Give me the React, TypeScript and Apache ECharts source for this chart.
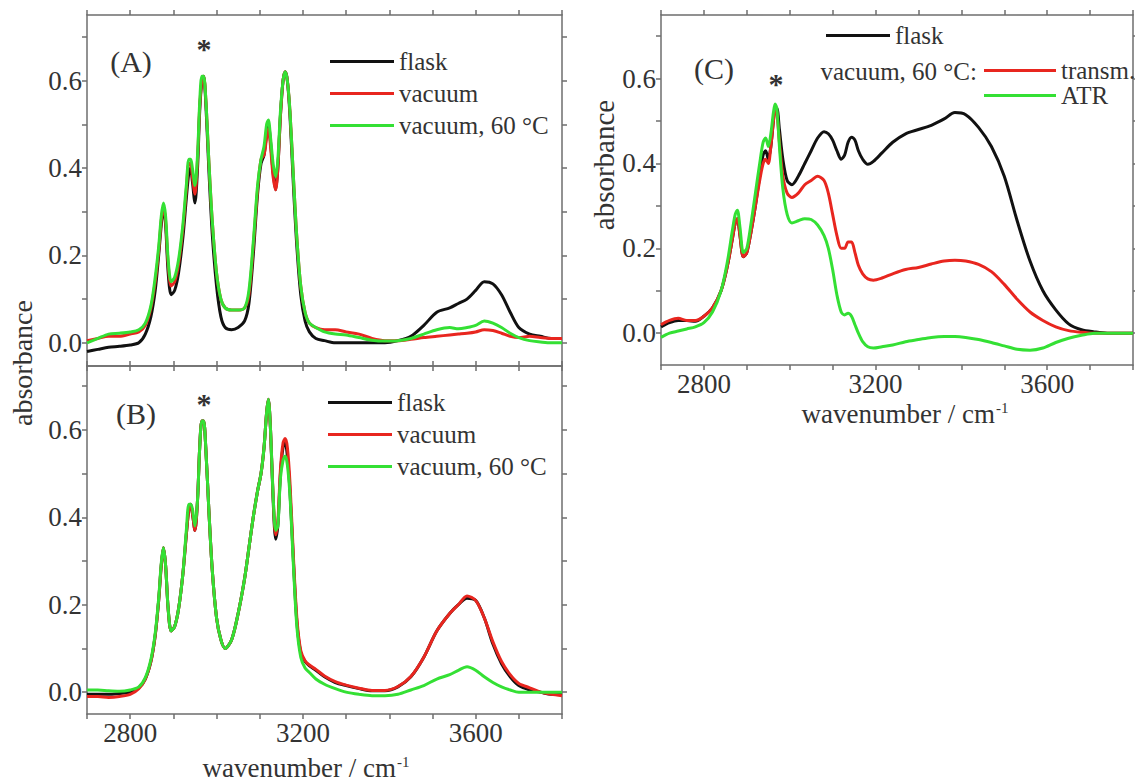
import React, { useEffect, useRef } from "react";
import * as echarts from "echarts";

// ---------- data ----------
const xAB = [
  2700, 2725, 2750, 2775, 2800, 2820, 2835, 2848, 2858, 2866,
  2872, 2877, 2882, 2888, 2895, 2903, 2912, 2922, 2930, 2936,
  2940, 2944, 2950, 2956, 2961, 2966, 2970, 2975, 2982, 2990,
  3000, 3010, 3020, 3035, 3050, 3065, 3075, 3085, 3095, 3103,
  3110, 3116, 3120, 3125, 3131, 3137, 3142, 3148, 3154, 3159,
  3164, 3170, 3178, 3186, 3195, 3205, 3215, 3230, 3250, 3275,
  3300, 3330, 3360, 3390, 3420, 3450, 3480, 3510, 3540, 3560,
  3580, 3600, 3620, 3640, 3660, 3680, 3700, 3725, 3750, 3775,
  3800,
];

const aFlask = [
  -0.02, -0.015, -0.01, -0.008, -0.005, 0.0, 0.02, 0.06, 0.12, 0.2,
  0.27, 0.31, 0.27, 0.16, 0.11, 0.12, 0.16, 0.24, 0.33, 0.39,
  0.4, 0.37, 0.32, 0.4, 0.53, 0.6, 0.61, 0.55, 0.4, 0.25,
  0.13, 0.06, 0.035, 0.03, 0.035, 0.05, 0.09, 0.2, 0.34, 0.41,
  0.43, 0.48, 0.5, 0.46, 0.39, 0.35, 0.4, 0.52, 0.6, 0.62,
  0.6, 0.52, 0.36, 0.22, 0.11, 0.05, 0.025, 0.01, 0.005, 0.0,
  0.0, 0.0, 0.0, 0.0, 0.005, 0.015, 0.04, 0.07, 0.08, 0.09,
  0.1, 0.12, 0.14, 0.135, 0.11, 0.07, 0.035, 0.02, 0.015, 0.01,
  0.01,
];
const aVacuum = [
  0.005, 0.01, 0.015, 0.015, 0.02, 0.025, 0.04, 0.08, 0.14, 0.21,
  0.28, 0.31, 0.28, 0.18, 0.13, 0.14, 0.18, 0.26, 0.35, 0.41,
  0.41, 0.38, 0.34, 0.42, 0.54, 0.6, 0.61, 0.56, 0.42, 0.28,
  0.16, 0.1, 0.08, 0.075, 0.075, 0.08, 0.11, 0.22, 0.35, 0.42,
  0.43, 0.47, 0.49, 0.45, 0.38, 0.35, 0.4, 0.52, 0.6, 0.62,
  0.6, 0.53, 0.38, 0.24, 0.13, 0.07, 0.045, 0.035, 0.03, 0.03,
  0.025, 0.02, 0.01, 0.005, 0.005, 0.008, 0.012, 0.015, 0.018, 0.02,
  0.022, 0.025, 0.03, 0.028, 0.022, 0.015, 0.012, 0.015, 0.012, 0.01,
  0.01,
];
const aVacuum60 = [
  0.0, 0.01, 0.02, 0.022, 0.025, 0.03, 0.045, 0.085, 0.15, 0.22,
  0.29, 0.32, 0.29, 0.19, 0.14, 0.15, 0.19, 0.27, 0.36, 0.42,
  0.42, 0.4, 0.36, 0.43, 0.55, 0.61, 0.61, 0.56, 0.42, 0.28,
  0.16, 0.1, 0.08, 0.075, 0.075, 0.08, 0.12, 0.23, 0.36, 0.42,
  0.45, 0.5, 0.51, 0.47, 0.41, 0.38, 0.42, 0.53, 0.6, 0.62,
  0.6, 0.53, 0.38, 0.24, 0.13, 0.07, 0.045, 0.035, 0.025, 0.02,
  0.018, 0.012, 0.006, 0.004, 0.005, 0.01, 0.02, 0.03, 0.035, 0.032,
  0.035, 0.04, 0.05, 0.045, 0.035, 0.022, 0.012, 0.005, 0.002, 0.0,
  0.0,
];

const bFlask = [
  -0.005, -0.005, -0.005, -0.003, 0.0, 0.01, 0.03, 0.07, 0.13, 0.21,
  0.29, 0.33, 0.29, 0.19, 0.14, 0.15, 0.19, 0.27, 0.36, 0.42,
  0.43, 0.41, 0.37, 0.44, 0.56, 0.62, 0.62, 0.56, 0.42, 0.28,
  0.17, 0.12, 0.1, 0.12, 0.18, 0.26, 0.33, 0.4, 0.46, 0.5,
  0.56, 0.64, 0.67, 0.6, 0.44, 0.35, 0.38, 0.5, 0.56, 0.57,
  0.54, 0.46, 0.3, 0.16, 0.09, 0.07, 0.06, 0.05, 0.035, 0.022,
  0.015, 0.008, 0.003, 0.003, 0.012, 0.035, 0.08, 0.14, 0.18, 0.2,
  0.215, 0.21, 0.17, 0.11, 0.065, 0.035, 0.015, 0.005, 0.0, -0.005,
  -0.005,
];
const bVacuum = [
  -0.01, -0.01, -0.012, -0.01, -0.005, 0.008, 0.03, 0.07, 0.13, 0.21,
  0.29, 0.33, 0.29, 0.19, 0.14, 0.15, 0.19, 0.27, 0.36, 0.42,
  0.43, 0.41, 0.37, 0.44, 0.56, 0.62, 0.62, 0.56, 0.42, 0.28,
  0.17, 0.12, 0.1, 0.12, 0.18, 0.26, 0.33, 0.4, 0.46, 0.5,
  0.56, 0.64, 0.67, 0.6, 0.45, 0.36, 0.39, 0.51, 0.57, 0.58,
  0.56, 0.48, 0.31, 0.17, 0.095, 0.072, 0.062, 0.052, 0.037, 0.024,
  0.016, 0.009, 0.004, 0.004, 0.013, 0.036, 0.08, 0.14, 0.18, 0.2,
  0.22, 0.21, 0.17, 0.115, 0.07, 0.04, 0.02, 0.01, 0.0, -0.005,
  -0.008,
];
const bVacuum60 = [
  0.005, 0.005, 0.003, 0.002, 0.005, 0.012, 0.033, 0.075, 0.135, 0.215,
  0.295, 0.33, 0.29, 0.19, 0.14, 0.15, 0.19, 0.27, 0.37, 0.43,
  0.43, 0.42, 0.38, 0.44, 0.56, 0.62, 0.62, 0.56, 0.42, 0.28,
  0.17, 0.12, 0.1, 0.12, 0.18, 0.26, 0.33, 0.4, 0.46, 0.5,
  0.56, 0.64, 0.67, 0.6, 0.45, 0.37, 0.38, 0.49, 0.53, 0.54,
  0.52, 0.45, 0.29, 0.15, 0.08, 0.055, 0.045, 0.03, 0.018, 0.008,
  0.0, -0.005, -0.008, -0.008, -0.005, 0.005, 0.015, 0.03, 0.04, 0.05,
  0.058, 0.05, 0.035, 0.022, 0.012, 0.005, 0.0, 0.0, 0.0, 0.0,
  0.0,
];

const xC = [
  2700, 2720, 2740, 2760, 2780, 2800, 2820, 2840, 2855, 2866,
  2873, 2878, 2884, 2892, 2900, 2910, 2920, 2930, 2938, 2944,
  2950, 2956, 2962, 2966, 2970, 2976, 2984, 2994, 3005, 3020,
  3035, 3050, 3065, 3080, 3090, 3100, 3110, 3120, 3128, 3136,
  3144, 3152, 3160, 3170, 3182, 3195, 3215, 3240, 3270, 3300,
  3330, 3360, 3385, 3410, 3440, 3470, 3500, 3530, 3560, 3590,
  3620, 3650, 3680, 3710, 3740, 3770, 3800,
];
const cFlask = [
  0.015, 0.025, 0.03, 0.03, 0.028, 0.04, 0.06, 0.1, 0.16, 0.22,
  0.26, 0.27, 0.23, 0.18, 0.19, 0.24, 0.3, 0.37, 0.42, 0.43,
  0.41, 0.44, 0.5, 0.53, 0.53, 0.48, 0.41, 0.36, 0.35, 0.37,
  0.4, 0.43, 0.46, 0.475, 0.47, 0.455, 0.43, 0.41, 0.42, 0.45,
  0.462, 0.455, 0.43, 0.41, 0.398, 0.405, 0.425, 0.45, 0.47, 0.48,
  0.49, 0.505, 0.52, 0.515, 0.485, 0.44, 0.37, 0.265, 0.17, 0.1,
  0.055, 0.022, 0.008, 0.003, 0.0, 0.0, 0.0,
];
const cTransm = [
  0.02, 0.03, 0.035, 0.03, 0.03, 0.04, 0.06, 0.1, 0.16, 0.22,
  0.26, 0.27, 0.23, 0.18, 0.19, 0.24, 0.3, 0.36, 0.4, 0.41,
  0.4, 0.44, 0.5, 0.53, 0.52, 0.45, 0.37, 0.33, 0.32, 0.33,
  0.35, 0.36, 0.37, 0.36, 0.33, 0.28, 0.23, 0.2, 0.2, 0.215,
  0.215, 0.19, 0.16, 0.14, 0.128, 0.125, 0.13, 0.14, 0.15, 0.155,
  0.163, 0.17, 0.172, 0.17, 0.162, 0.145, 0.115, 0.08, 0.05, 0.03,
  0.015, 0.006, 0.002, 0.0, 0.0, 0.0, 0.0,
];
const cATR = [
  -0.01, 0.0, 0.005, 0.01, 0.015, 0.025, 0.05, 0.1, 0.17, 0.24,
  0.28, 0.29, 0.25, 0.19, 0.2, 0.26, 0.33, 0.4, 0.45, 0.46,
  0.44, 0.47, 0.52, 0.54, 0.53, 0.44, 0.34, 0.28, 0.26, 0.265,
  0.27, 0.268, 0.255, 0.23, 0.2, 0.15, 0.09, 0.05, 0.043, 0.047,
  0.04, 0.02, 0.0, -0.02, -0.032, -0.035, -0.032, -0.028, -0.02, -0.015,
  -0.01, -0.008, -0.008, -0.01, -0.015, -0.022, -0.03, -0.038, -0.04, -0.035,
  -0.022, -0.012, -0.005, 0.0, 0.0, 0.0, 0.0,
];

const xTickValues = [2700, 2800, 2900, 3000, 3100, 3200, 3300, 3400, 3500, 3600, 3700, 3800];
const xLabelValues = [2800, 3200, 3600];
const yTickValues = [0, 0.1, 0.2, 0.3, 0.4, 0.5, 0.6, 0.7];
const yLabelValues = [0, 0.2, 0.4, 0.6];

const seriesNamesAB = ["flask", "vacuum", "vacuum, 60 °C"];
const seriesNamesC = ["flask", "transm.", "ATR"];

// ---------- style ----------
const FONT = "Liberation Serif";
const TEXT = "#333333";
const AXIS = "#6e6e6e";
const BLACK = "#111111";
const RED = "#e8261f";
const GREEN = "#34e034";

const grids = [
  { left: 87, top: 15, width: 475, height: 351 },
  { left: 87, top: 366, width: 475, height: 348 },
  { left: 661, top: 15, width: 472, height: 350 },
];
const yRanges = [
  [-0.053, 0.75],
  [-0.05, 0.746],
  [-0.075, 0.75],
];
const showXLabels = [false, true, true];

function pairs(xs: number[], ys: number[]) {
  return xs.map((x, i) => [x, ys[i]]);
}

export default function App() {
  const ref = useRef<HTMLDivElement>(null);

  useEffect(() => {
    document.body.style.margin = "0";
    if (!ref.current) return;
    const chart = echarts.init(ref.current, undefined, { renderer: "svg" });

    const lineStyle = { color: AXIS, width: 1.5 };
    const xAxis: any[] = [];
    const yAxis: any[] = [];
    grids.forEach((_, i) => {
      const base = {
        type: "value",
        gridIndex: i,
        min: 2700,
        max: 3800,
        axisLine: { show: true, onZero: false, lineStyle },
        axisTick: { show: true, inside: false, length: 5, customValues: xTickValues, lineStyle },
        splitLine: { show: false },
      };
      xAxis.push({
        ...base,
        position: "bottom",
        axisLabel: {
          show: showXLabels[i],
          customValues: xLabelValues,
          formatter: (v: number) => String(Math.round(v)),
          fontFamily: FONT,
          fontSize: 27,
          color: TEXT,
          margin: 5,
        },
      });
      xAxis.push({ ...base, position: "top", axisLabel: { show: false } });
      const ybase = {
        type: "value",
        gridIndex: i,
        min: yRanges[i][0],
        max: yRanges[i][1],
        axisLine: { show: true, onZero: false, lineStyle },
        axisTick: { show: true, inside: false, length: 5, customValues: yTickValues, lineStyle },
        splitLine: { show: false },
      };
      yAxis.push({
        ...ybase,
        position: "left",
        axisLabel: {
          customValues: yLabelValues,
          formatter: (v: number) => v.toFixed(1),
          fontFamily: FONT,
          fontSize: 27,
          color: TEXT,
          margin: 5,
        },
      });
      yAxis.push({ ...ybase, position: "right", axisLabel: { show: false } });
    });

    const mk = (name: string, color: string, g: number, xs: number[], ys: number[]) => ({
      name,
      type: "line",
      xAxisIndex: 2 * g,
      yAxisIndex: 2 * g,
      data: pairs(xs, ys),
      showSymbol: false,
      symbol: "none",
      smooth: 0.3,
      color,
      itemStyle: { color },
      lineStyle: { color, width: 3 },
    });

    const legendBase = {
      orient: "vertical",
      icon: "rect",
      itemHeight: 3,
      itemWidth: 64,
      padding: 0,
      selectedMode: false,
      textStyle: { fontFamily: FONT, fontSize: 25, color: TEXT },
    };

    const sup = (t: string) => ({
      text: `{a|${t}}{s|-1}`,
      rich: {
        a: { fontFamily: FONT, fontSize: 27, fill: TEXT },
        s: { fontFamily: FONT, fontSize: 15, fill: TEXT, padding: [0, 0, 12, 1] },
      },
    });

    const txt = (x: number, y: number, text: string, size: number, extra: any = {}) => ({
      type: "text",
      x,
      y,
      ...extra,
      style: {
        text,
        fontFamily: FONT,
        fontSize: size,
        fill: TEXT,
        textAlign: "center",
        textVerticalAlign: "middle",
        ...(extra.style || {}),
      },
    });

    chart.setOption({
      animation: false,
      backgroundColor: "#ffffff",
      textStyle: { fontFamily: FONT },
      grid: grids.map((g) => ({ ...g, show: false })),
      xAxis,
      yAxis,
      legend: [
        { ...legendBase, data: seriesNamesAB, left: 330, top: 49, itemGap: 7 },
        { ...legendBase, data: seriesNamesAB, left: 328, top: 390, itemGap: 7 },
        { ...legendBase, data: [seriesNamesC[0]], left: 826, top: 23 },
        { ...legendBase, data: seriesNamesC.slice(1), left: 984, top: 58, itemWidth: 72, itemGap: 0 },
      ],
      graphic: [
        txt(131, 61, "(A)", 30),
        txt(136, 413, "(B)", 30),
        txt(714, 68, "(C)", 30),
        txt(204, 48, "*", 30, { style: { fontWeight: "bold" } }),
        txt(204, 403, "*", 30, { style: { fontWeight: "bold" } }),
        txt(776, 83, "*", 30, { style: { fontWeight: "bold" } }),
        txt(977, 71, "vacuum, 60 °C:", 25, { style: { textAlign: "right" } }),
        txt(22, 363, "absorbance", 28, { rotation: Math.PI / 2 }),
        txt(604, 165, "absorbance", 29, { rotation: Math.PI / 2 }),
        { type: "text", x: 306, y: 768, style: { ...sup("wavenumber / cm"), textAlign: "center", textVerticalAlign: "middle" } },
        { type: "text", x: 905, y: 414, style: { ...sup("wavenumber / cm"), textAlign: "center", textVerticalAlign: "middle" } },
      ],
      series: [
        mk(seriesNamesAB[0], BLACK, 0, xAB, aFlask),
        mk(seriesNamesAB[1], RED, 0, xAB, aVacuum),
        mk(seriesNamesAB[2], GREEN, 0, xAB, aVacuum60),
        mk(seriesNamesAB[0], BLACK, 1, xAB, bFlask),
        mk(seriesNamesAB[1], RED, 1, xAB, bVacuum),
        mk(seriesNamesAB[2], GREEN, 1, xAB, bVacuum60),
        mk(seriesNamesC[0], BLACK, 2, xC, cFlask),
        mk(seriesNamesC[1], RED, 2, xC, cTransm),
        mk(seriesNamesC[2], GREEN, 2, xC, cATR),
      ],
    });

    return () => chart.dispose();
  }, []);

  return (
    <div
      ref={ref}
      style={{ position: "absolute", left: 0, top: 0, width: 1135, height: 783, background: "#fff" }}
    />
  );
}
